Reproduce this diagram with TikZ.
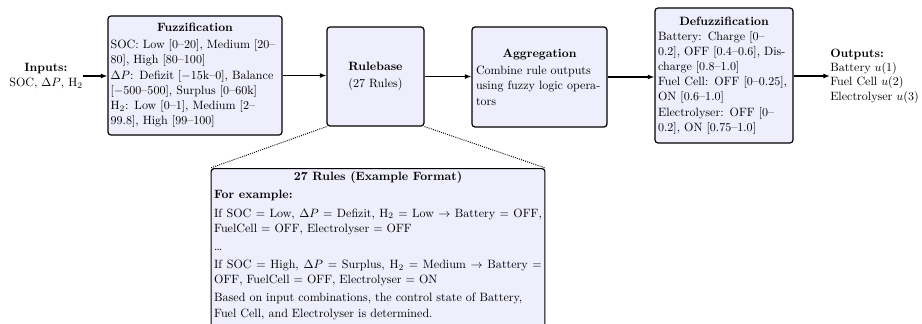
\documentclass[tikz,border=0pt]{standalone}
\usetikzlibrary{arrows.meta}
\definecolor{boxfill}{RGB}{238,238,252}
\tikzset{
  blockbox/.style={draw=black, line width=1pt, rounded corners=2.5pt, fill=boxfill, font=\linespread{1.05}\selectfont},
  flowarrow/.style={line width=1pt, -{Latex[length=5.5pt,width=4.2pt]}},
  zoomline/.style={densely dotted, line width=0.8pt},
  plainlabel/.style={inner sep=0pt},
}
\begin{document}
\begin{tikzpicture}[x=0.83pt,y=-0.83pt]
\useasboundingbox (0,0) rectangle (922,323);
\clip (0,0) rectangle (922,323);

\node[plainlabel, align=center] (in) at (46,76) {\textbf{Inputs:}\\SOC, $\Delta P$, H$_2$};

\node[blockbox, text width=140pt, inner sep=2.2pt, minimum height=98.8pt, align=left] (fuzz) at (195,75.5)
{{\centering\textbf{Fuzzification}\par}\vspace{1.5pt}
SOC: Low [0--20], Medium [20--\\
80], High [80--100]\\
$\Delta P$: Defizit [$-$15k--0], Balance\\{}
[$-$500--500], Surplus [0--60k]\\
H$_2$: Low [0--1], Medium [2--\\
99.8], High [99--100]};

\node[blockbox, minimum width=80.5pt, minimum height=82.2pt, align=center] (rule) at (375.5,76.5)
{\textbf{Rulebase}\\[2pt](27 Rules)};

\node[blockbox, text width=105.4pt, inner sep=3.3pt, minimum height=83pt, align=left] (agg) at (539.5,77)
{{\centering\textbf{Aggregation}\par}\vspace{2pt}
Combine rule outputs\\
using fuzzy logic opera-\\
tors};

\node[blockbox, text width=109.5pt, inner sep=2.5pt, minimum height=112pt, align=left] (defuzz) at (724,75.5)
{{\centering\textbf{Defuzzification}\par}
Battery: Charge [0--\\
0.2], OFF [0.4--0.6], Dis-\\
charge [0.8--1.0]\\
Fuel Cell: OFF [0--0.25],\\
ON [0.6--1.0]\\
Electrolyser: OFF [0--\\
0.2], ON [0.75--1.0]};

\node[plainlabel, align=left, anchor=west] (out) at (830,76)
{\textbf{Outputs:}\\Battery $u(1)$\\Fuel Cell $u(2)$\\Electrolyser $u(3)$};

\node[blockbox, anchor=north, inner sep=2.5pt] (ex) at (378,168)
{\begin{minipage}[t][150pt][t]{272pt}
\setlength{\parskip}{2.5pt}\setlength{\parindent}{0pt}
{\centering\textbf{27 Rules (Example Format)}\par}
\textbf{For example:}\par
If SOC $=$ Low, $\Delta P$ $=$ Defizit, H$_2$ $=$ Low $\rightarrow$ Battery $=$ OFF,\linebreak{}
FuelCell $=$ OFF, Electrolyser $=$ OFF\par
\dots\par
If SOC $=$ High, $\Delta P$ $=$ Surplus, H$_2$ $=$ Medium $\rightarrow$ Battery $=$\linebreak{}
OFF, FuelCell $=$ OFF, Electrolyser $=$ ON\par
Based on input combinations, the control state of Battery,\\
Fuel Cell, and Electrolyser is determined.
\end{minipage}};

\draw[flowarrow] (in.east) -- (in.east -| fuzz.west);
\draw[flowarrow] (fuzz.east) -- (fuzz.east -| rule.west);
\draw[flowarrow] (rule.east) -- (rule.east -| agg.west);
\draw[flowarrow] (agg.east) -- (agg.east -| defuzz.west);
\draw[flowarrow] (defuzz.east |- out.west) -- (out.west);

\draw[zoomline] (rule.south west) -- (ex.north west);
\draw[zoomline] (rule.south east) -- (ex.north east);
\end{tikzpicture}
\end{document}
